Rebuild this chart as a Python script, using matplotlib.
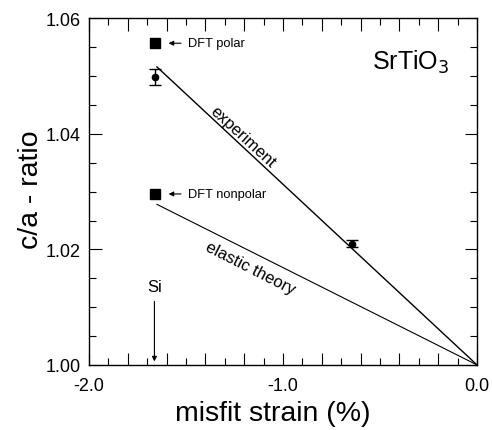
import matplotlib
matplotlib.use("Agg")
import matplotlib.pyplot as plt
from matplotlib.ticker import MultipleLocator, FuncFormatter, FormatStrFormatter

plt.rcParams["font.family"] = ["Liberation Sans", "DejaVu Sans"]

# data
dft_strain = [-1.66, -1.66]
dft_ratio = [1.0557, 1.0296]
dft_names = ["DFT polar", "DFT nonpolar"]

exp_strain = [-1.66, -0.646]
exp_ratio = [1.0499, 1.0210]
exp_err = [0.0014, 0.0006]

exp_line_x = [-1.65, 0.0]
exp_line_y = [1.0516, 1.0]
el_line_x = [-1.65, 0.0]
el_line_y = [1.0278, 1.0]

si_strain = -1.663

fig = plt.figure(figsize=(4.92, 4.31), dpi=100)
ax = fig.add_axes([0.181, 0.151, 0.7885, 0.804])

ax.plot(exp_line_x, exp_line_y, color="black", lw=1.0)
ax.plot(el_line_x, el_line_y, color="black", lw=0.8)
ax.errorbar(exp_strain, exp_ratio, yerr=exp_err, fmt="o", color="black",
            markersize=4.5, capsize=4, elinewidth=1.0, capthick=1.0)
ax.plot(dft_strain, dft_ratio, "s", color="black", markersize=7)

for sx, sy, name in zip(dft_strain, dft_ratio, dft_names):
    ax.annotate(name, xy=(sx + 0.07, sy), xytext=(sx + 0.17, sy),
                fontsize=9.3, va="center", ha="left",
                arrowprops=dict(arrowstyle="-|>", color="black", lw=0.8,
                                mutation_scale=7, shrinkA=3, shrinkB=0))

ax.text(-1.21, 1.0395, "experiment", rotation=-42.5, rotation_mode="anchor",
        ha="center", va="center", fontsize=12)
ax.text(-1.17, 1.0168, "elastic theory", rotation=-27, rotation_mode="anchor",
        ha="center", va="center", fontsize=12)
ax.text(-0.34, 1.0526, "SrTiO$_3$", ha="center", va="center", fontsize=18)

ax.annotate("Si", xy=(si_strain, 1.0006), xytext=(si_strain, 1.0122),
            ha="center", va="bottom", fontsize=12,
            arrowprops=dict(arrowstyle="-|>", color="black", lw=0.8,
                            mutation_scale=7, shrinkA=3, shrinkB=0))

ax.set_xlim(-2.0, 0.0)
ax.set_ylim(1.00, 1.06)
# long ticks every 0.2, labels only on whole numbers
ax.xaxis.set_major_locator(MultipleLocator(0.2))
ax.xaxis.set_minor_locator(MultipleLocator(0.1))
ax.xaxis.set_major_formatter(FuncFormatter(
    lambda v, p: "%.1f" % v if abs(v - round(v)) < 1e-6 else ""))
ax.yaxis.set_major_locator(MultipleLocator(0.02))
ax.yaxis.set_minor_locator(MultipleLocator(0.005))
ax.yaxis.set_major_formatter(FormatStrFormatter("%.2f"))

ax.tick_params(which="both", direction="in", top=True, right=True, labelsize=13)
ax.tick_params(which="major", length=9, width=0.8)
ax.tick_params(which="minor", length=5, width=0.8)
ax.tick_params(axis="x", which="major", pad=8.5)
ax.tick_params(axis="y", which="major", pad=6)

ax.set_xlabel("misfit strain (%)", fontsize=20.5)
ax.set_ylabel("c/a - ratio", fontsize=20.5)
ax.xaxis.set_label_coords(0.473, -0.1)
ax.yaxis.set_label_coords(-0.115, 0.51)
for s in ax.spines.values():
    s.set_linewidth(1.0)

fig.savefig("out.png", dpi=100)
